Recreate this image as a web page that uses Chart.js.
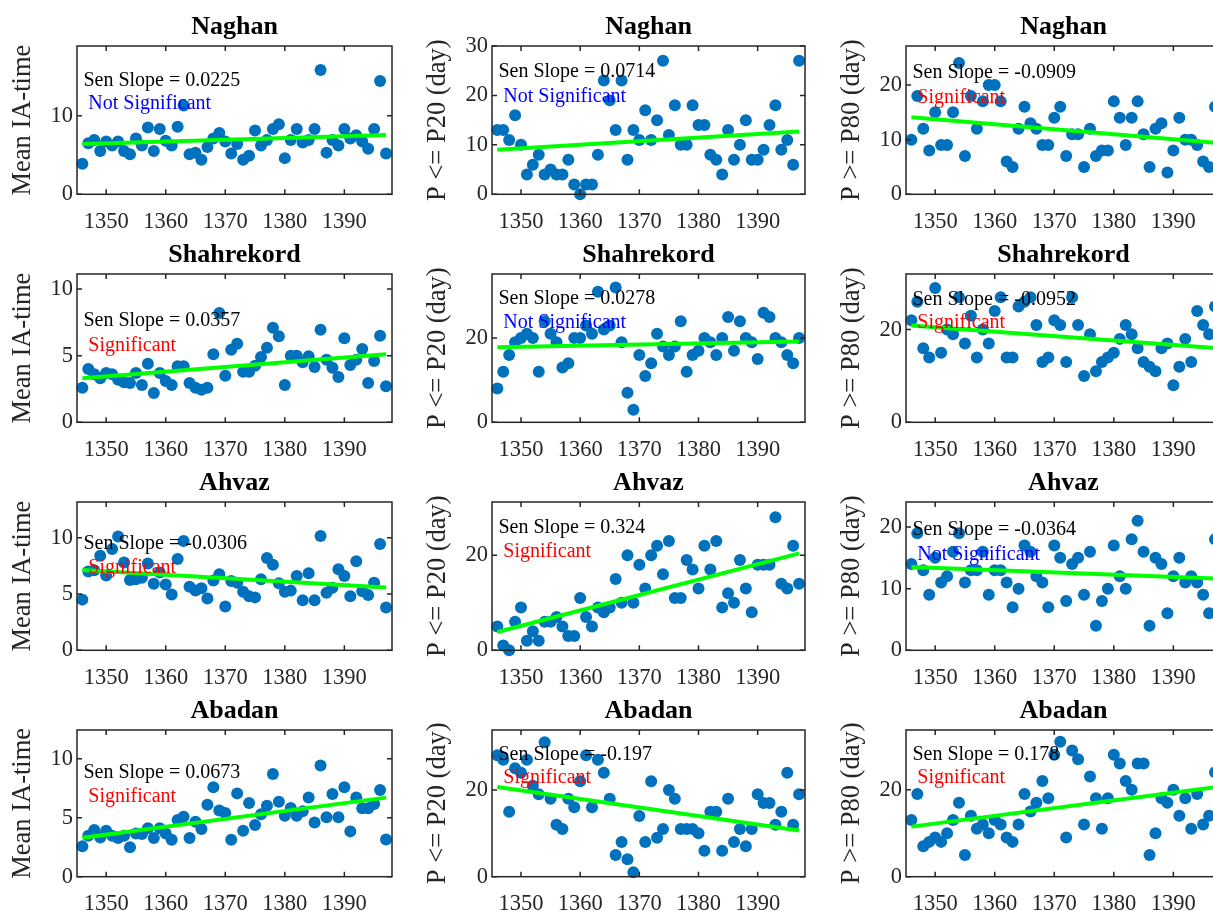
<!DOCTYPE html>
<html>
<head>
<meta charset="utf-8">
<script src="https://cdn.jsdelivr.net/npm/chart.js@4.4.0/dist/chart.umd.min.js"></script>
<style>
    html, body { margin: 0; padding: 0; background: #fff; overflow: hidden; width: 1213px; height: 911px; }
    canvas { position: absolute; }
</style>
</head>
<body>
<script>
'use strict';

var years = [1346, 1347, 1348, 1349, 1350, 1351, 1352, 1353, 1354, 1355, 1356, 1357, 1358,
    1359, 1360, 1361, 1362, 1363, 1364, 1365, 1366, 1367, 1368, 1369, 1370, 1371, 1372,
    1373, 1374, 1375, 1376, 1377, 1378, 1379, 1380, 1381, 1382, 1383, 1384, 1385, 1386,
    1387, 1388, 1389, 1390, 1391, 1392, 1393, 1394, 1395, 1396, 1397];
var xTicks = [1350, 1360, 1370, 1380, 1390];

var stations = ['Naghan', 'Shahrekord', 'Ahvaz', 'Abadan'];
var yTitles = ['Mean IA-time', 'P <= P20 (day)', 'P >= P80 (day)'];

var naghanIA = [3.9, 6.5, 6.9, 5.5, 6.7, 6.2, 6.7, 5.5, 5.1, 7.1, 6.2, 8.5, 5.5, 8.3, 6.8, 6.2, 8.6, 11.3, 5.1, 5.3, 4.4, 6.0, 7.1, 7.8, 6.7, 5.2,
    6.4, 4.4, 4.9, 8.1, 6.2, 6.9, 8.3, 8.9, 4.6, 6.9, 8.3, 6.6, 6.9, 8.3, 15.8, 5.3, 6.9, 6.2, 8.3, 7.1, 7.5, 6.7, 5.8, 8.3, 14.4, 5.2];
var naghanP20 = [13, 13, 11, 16, 10, 4, 6, 8, 4, 5, 4, 4, 7, 2, 0, 2, 2, 8, 23, 19, 13, 23, 7, 13, 11, 17,
    11, 15, 27, 12, 18, 10, 10, 18, 14, 14, 8, 7, 4, 13, 7, 10, 15, 7, 7, 9, 14, 18, 9, 11, 6, 27];
var naghanP80 = [10, 18, 12, 8, 15, 9, 9, 15, 24, 7, 18, 12, 17, 20, 20, 17, 6, 5, 12, 16, 13, 12, 9, 9, 14, 16,
    7, 11, 11, 5, 12, 7, 8, 8, 17, 14, 9, 14, 17, 11, 5, 12, 13, 4, 8, 14, 10, 10, 9, 6, 5, 16];

var shahrekordIA = [2.6, 4.0, 3.6, 3.3, 3.7, 3.6, 3.2, 3.0, 2.95, 3.7, 2.8, 4.4, 2.2, 3.7, 3.1, 2.8, 4.2, 4.2, 2.95, 2.6, 2.45, 2.6, 5.1, 8.2, 3.5, 5.45,
    5.9, 3.8, 3.8, 4.25, 4.9, 5.6, 7.1, 6.45, 2.8, 5.0, 5.0, 4.5, 4.95, 4.15, 6.95, 4.7, 4.1, 3.4, 6.3, 4.3, 4.7, 5.5, 2.95, 4.6, 6.5, 2.7];
var shahrekordP20 = [8, 12, 16, 19, 20, 21, 20, 12, 24, 21, 19, 13, 14, 20, 20, 23, 21, 31, 22, 23, 32, 19, 7, 3, 16, 11,
    14, 21, 18, 16, 18, 24, 12, 16, 17, 20, 19, 16, 20, 25, 17, 24, 20, 19, 15, 26, 25, 20, 19, 16, 14, 20];
var shahrekordP80 = [22, 26, 16, 14, 29, 15, 20, 19, 27, 17, 23, 14, 20, 17, 24, 27, 14, 14, 25, 26, 27, 21, 13, 14, 22, 21,
    13, 27, 21, 10, 19, 11, 13, 14, 15, 18, 21, 19, 16, 13, 12, 11, 16, 17, 8, 12, 18, 13, 24, 21, 19, 25];

var ahvazIA = [4.5, 7.0, 7.1, 8.4, 6.65, 9.0, 10.1, 7.8, 6.25, 6.3, 6.45, 7.7, 5.9, 6.9, 5.85, 4.95, 8.1, 9.7, 5.65, 5.3, 5.5, 4.6, 6.2, 6.75, 3.9, 6.15,
    6.0, 5.2, 4.8, 4.7, 6.3, 8.2, 7.6, 5.95, 5.2, 5.3, 6.6, 4.45, 6.85, 4.45, 10.15, 5.1, 5.55, 7.2, 6.6, 4.8, 7.9, 5.25, 4.9, 6.0, 9.45, 3.8];
var ahvazP20 = [5, 1, 0, 6, 9, 2, 4, 2, 6, 6, 7, 5, 3, 3, 11, 7, 5, 9, 8, 9, 15, 10, 20, 10, 18, 13,
    20, 22, 16, 23, 11, 11, 19, 17, 13, 22, 17, 23, 9, 12, 10, 19, 13, 8, 18, 18, 18, 28, 14, 13, 22, 14];
var ahvazP80 = [14, 19, 13, 9, 15, 11, 12, 16, 19, 11, 13, 13, 16, 9, 13, 13, 11, 7, 10, 17, 16, 12, 11, 7, 17, 15,
    8, 14, 15, 9, 16, 4, 8, 10, 17, 12, 10, 18, 21, 16, 4, 15, 14, 6, 12, 15, 11, 12, 11, 9, 6, 18];

var abadanIA = [2.57, 3.47, 3.95, 3.33, 3.9, 3.47, 3.28, 3.47, 2.49, 3.67, 3.62, 4.1, 3.28, 4.1, 3.67, 3.14, 4.8, 5.08, 3.28, 4.66, 4.04, 6.1, 7.57, 5.6, 5.4, 3.14,
    7.06, 3.9, 6.24, 4.38, 5.3, 6.02, 8.7, 6.36, 5.17, 5.82, 5.17, 5.54, 6.72, 4.6, 9.43, 5.03, 7.0, 5.03, 7.57, 3.84, 6.72, 5.79, 5.79, 6.16, 7.34, 3.16];
var abadanP20 = [28, 27, 15, 25, 24, 27, 21, 19, 31, 18, 12, 11, 18, 16, 22, 28, 16, 27, 24, 18, 5, 8, 4, 1, 14, 8,
    22, 9, 11, 20, 18, 11, 11, 11, 10, 6, 15, 15, 6, 18, 8, 11, 7, 11, 19, 17, 17, 12, 15, 24, 12, 19];
var abadanP80 = [13, 19, 7, 8, 9, 8, 10, 13, 17, 5, 14, 11, 12, 10, 13, 12, 9, 8, 12, 19, 15, 17, 22, 18, 28, 31,
    9, 29, 27, 12, 23, 18, 11, 18, 28, 26, 22, 20, 26, 26, 5, 10, 18, 17, 20, 14, 18, 11, 19, 12, 14, 24];

// panel order: row by row (station), column = variable
var senSlopes = ['0.0225', '0.0714', '-0.0909', '0.0357', '0.0278', '-0.0952',
    '-0.0306', '0.324', '-0.0364', '0.0673', '-0.197', '0.178'];
var significant = [false, false, true, true, false, true, true, true, false, true, true, true];
var trendStart = [6.4, 9.0, 14.1, 3.3, 17.8, 20.9, 7.13, 3.86, 13.5, 3.3, 20.7, 11.5];
var trendEnd = [7.55, 12.7, 9.45, 5.1, 19.2, 16.05, 5.57, 20.4, 11.64, 6.7, 10.65, 20.55];
var yMax = [18.86, 30, 27.13, 11.13, 35.2, 32, 13.17, 31.2, 24.05, 12.43, 33.85, 33.7];
var yTicks = [[0, 10], [0, 10, 20, 30], [0, 10, 20],
    [0, 5, 10], [0, 20], [0, 20],
    [0, 5, 10], [0, 20], [0, 10, 20],
    [0, 5, 10], [0, 20], [0, 20]];

var series = [naghanIA, naghanP20, naghanP80, shahrekordIA, shahrekordP20, shahrekordP80,
    ahvazIA, ahvazP20, ahvazP80, abadanIA, abadanP20, abadanP80];

// layout (pixels)
var canvasLeft = [0, 405, 815];
var plotLeft = [77, 492, 906];
var plotRight = [392, 805, 1221];
var canvasTop = [0, 228, 456, 684];
var plotTop = [46, 274, 502, 730];
var plotBottom = [194.3, 422.3, 650.3, 876.7];
var yAxisWidth = 70;
var xAxisHeight = 34;
var annoY = [[33, 56.7], [24.7, 49], [25.7, 50.7],
    [45.7, 70.7], [23, 47.3], [24, 47.3],
    [40, 64], [24, 48.3], [26.7, 51.7],
    [41.3, 65], [23, 46.7], [23, 46.7]];

var serif = '"Liberation Serif", "Times New Roman", serif';
var axisColor = '#262626';

function boxPlugin(k, title) {
    return {
        id: 'box' + k,
        afterDraw: function (chart) {
            var ctx = chart.ctx, a = chart.chartArea;
            var xs = chart.scales.x, ys = chart.scales.y;
            ctx.save();
            ctx.strokeStyle = axisColor;
            ctx.lineWidth = 1.5;
            ctx.strokeRect(a.left, a.top, a.right - a.left, a.bottom - a.top);
            ctx.beginPath();
            xTicks.forEach(function (v) {
                var px = xs.getPixelForValue(v);
                ctx.moveTo(px, a.bottom); ctx.lineTo(px, a.bottom - 5);
                ctx.moveTo(px, a.top); ctx.lineTo(px, a.top + 5);
            });
            yTicks[k].forEach(function (v) {
                var py = ys.getPixelForValue(v);
                ctx.moveTo(a.left, py); ctx.lineTo(a.left + 5, py);
                ctx.moveTo(a.right, py); ctx.lineTo(a.right - 5, py);
            });
            ctx.stroke();

            ctx.fillStyle = '#000';
            ctx.font = 'bold 26px ' + serif;
            ctx.textAlign = 'center';
            ctx.textBaseline = 'alphabetic';
            ctx.fillText(title, (a.left + a.right) / 2, a.top - 11.7);

            ctx.font = '20px ' + serif;
            ctx.textAlign = 'left';
            ctx.fillText('Sen Slope = ' + senSlopes[k], a.left + 6.4, a.top + annoY[k][0] + 6.5);
            ctx.fillStyle = significant[k] ? '#ff0000' : '#0000ff';
            ctx.fillText(significant[k] ? 'Significant' : 'Not Significant', a.left + 11.3, a.top + annoY[k][1] + 6.5);
            ctx.restore();
        }
    };
}

for (var r = 0; r < 4; r++) {
    for (var c = 0; c < 3; c++) {
        (function (r, c) {
            var k = r * 3 + c;
            var W = Math.round(plotRight[c] + 10 - canvasLeft[c]);
            var H = Math.round(plotBottom[r] - canvasTop[r] + xAxisHeight);
            var cv = document.createElement('canvas');
            cv.width = W;
            cv.height = H;
            cv.style.left = canvasLeft[c] + 'px';
            cv.style.top = canvasTop[r] + 'px';
            cv.style.width = W + 'px';
            cv.style.height = H + 'px';
            document.body.appendChild(cv);

            var pts = years.map(function (y, i) { return {x: y, y: series[k][i]}; });
            var trend = [
                {x: years[0], y: trendStart[k]},
                {x: years[years.length - 1], y: trendEnd[k]}
            ];

            new Chart(cv.getContext('2d'), {
                type: 'scatter',
                data: {
                    datasets: [{
                        type: 'line',
                        data: trend,
                        borderColor: '#00ff00',
                        borderWidth: 4,
                        pointRadius: 0,
                        fill: false,
                        order: 0,
                        clip: false
                    }, {
                        data: pts,
                        backgroundColor: '#0072bd',
                        borderWidth: 0,
                        pointRadius: 6,
                        order: 1,
                        clip: false
                    }]
                },
                options: {
                    responsive: false,
                    animation: false,
                    devicePixelRatio: 1,
                    layout: {
                        padding: {
                            left: plotLeft[c] - canvasLeft[c] - yAxisWidth,
                            top: plotTop[r] - canvasTop[r],
                            right: W - (plotRight[c] - canvasLeft[c]),
                            bottom: 0
                        }
                    },
                    plugins: {
                        legend: {display: false},
                        tooltip: {enabled: false}
                    },
                    scales: {
                        x: {
                            type: 'linear',
                            min: 1345.1,
                            max: 1398,
                            grid: {display: false, drawTicks: false},
                            border: {display: false},
                            afterBuildTicks: function (s) {
                                s.ticks = xTicks.map(function (v) { return {value: v}; });
                            },
                            afterFit: function (s) {
                                s.height = H - (plotBottom[r] - canvasTop[r]);
                            },
                            ticks: {
                                color: axisColor,
                                font: {family: serif, size: 22.5},
                                padding: 14,
                                maxRotation: 0,
                                callback: function (v) { return String(v); }
                            }
                        },
                        y: {
                            type: 'linear',
                            min: 0,
                            max: yMax[k],
                            grid: {display: false, drawTicks: false},
                            border: {display: false},
                            afterBuildTicks: function (s) {
                                s.ticks = yTicks[k].map(function (v) { return {value: v}; });
                            },
                            afterFit: function (s) {
                                s.width = yAxisWidth;
                            },
                            ticks: {
                                color: axisColor,
                                font: {family: serif, size: 22.5},
                                padding: 4,
                                callback: function (v) { return String(v); }
                            },
                            title: {
                                display: true,
                                text: yTitles[c],
                                color: axisColor,
                                font: {family: serif, size: 26.5},
                                padding: 0
                            }
                        }
                    }
                },
                plugins: [boxPlugin(k, stations[r])]
            });
        })(r, c);
    }
}
</script>
</body>
</html>
